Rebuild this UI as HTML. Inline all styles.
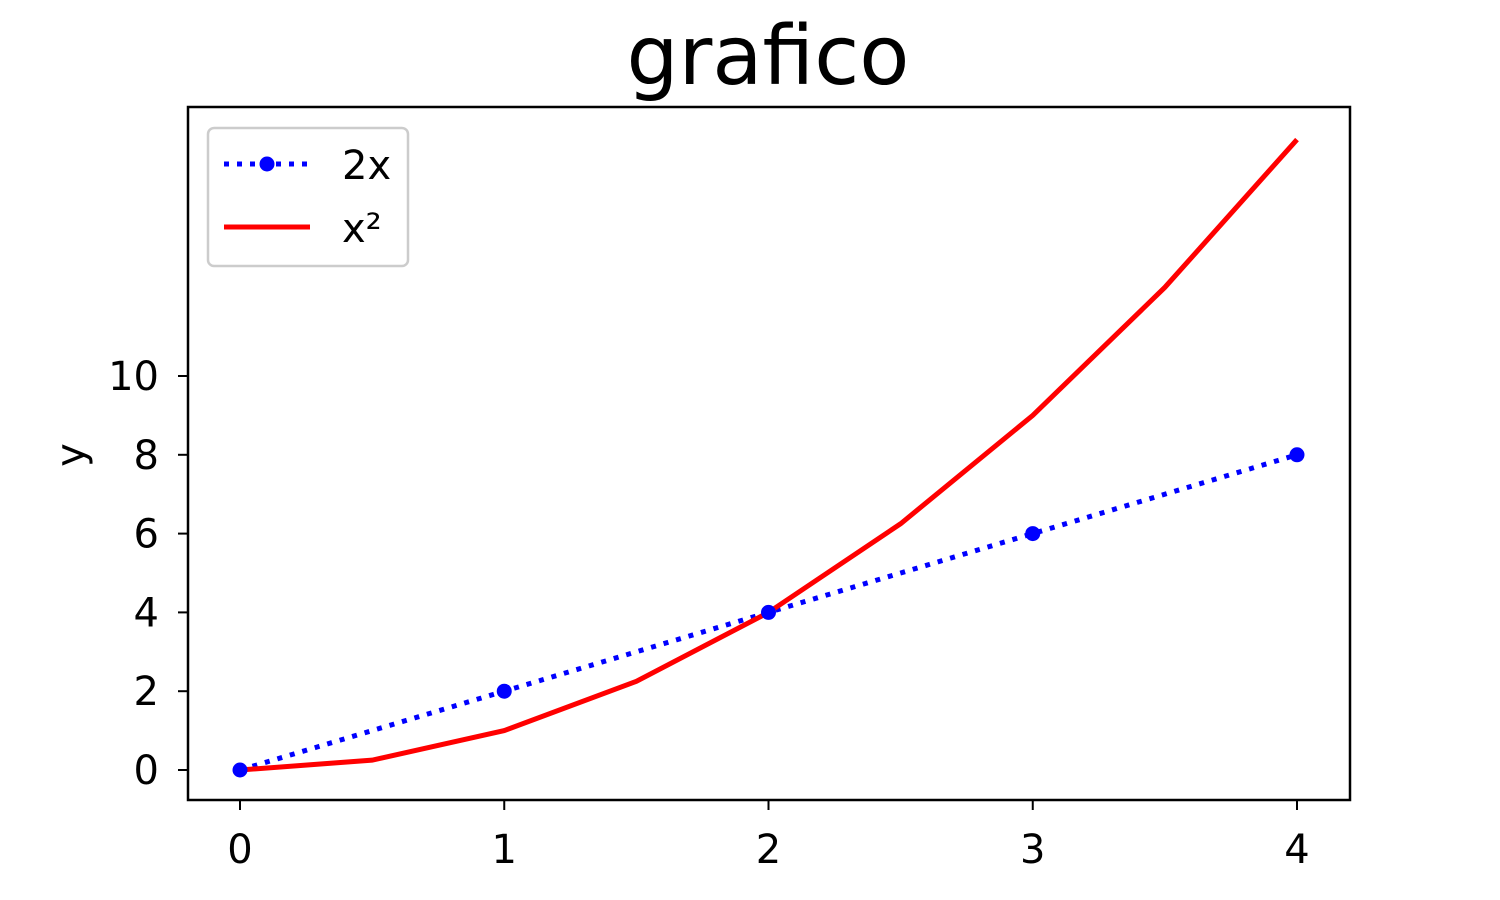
<!DOCTYPE html>
<html><head><meta charset="utf-8"><style>
body{margin:0;background:#fff}
svg{display:block;font-family:"DejaVu Sans","Liberation Sans",sans-serif}
</style></head><body>
<svg id="chart" width="1500" height="900" viewBox="0 0 1500 900">
<rect width="1500" height="900" fill="#fff"/>
<text x="768" y="84" font-size="82" text-anchor="middle">grafico</text>
<g id="ticks"></g>
<g id="marks"></g>
<rect x="188" y="107" width="1162" height="693" fill="none" stroke="#000" stroke-width="2.5"/>
<text transform="translate(84,455) rotate(-90)" font-size="40" text-anchor="middle">y</text>
<text x="768" y="922" font-size="40" text-anchor="middle">x</text>
<g>
<rect x="208" y="128" width="200" height="138" rx="6" fill="#fff" stroke="#ccc" stroke-width="2.5"/>
<line x1="224" y1="164" x2="310" y2="164" stroke="#0000ff" stroke-width="5" stroke-dasharray="5,8"/>
<circle cx="267" cy="164" r="7.5" fill="#0000ff"/>
<text x="342" y="179" font-size="40">2x</text>
<line x1="224" y1="227" x2="310" y2="227" stroke="#ff0000" stroke-width="5"/>
<text x="342" y="242" font-size="40">x²</text>
</g>
</svg>
<script>
const xTicks=[0,1,2,3,4];
const yTicks=[0,2,4,6,8,10];
const linX=[0,1,2,3,4];
const linY=[0,2,4,6,8];
const sqX=[0,0.5,1,1.5,2,2.5,3,3.5,4];
const sqY=[0,0.25,1,2.25,4,6.25,9,12.25,16];
const NS="http://www.w3.org/2000/svg";
const sx=v=>240+v*264.25;
const sy=v=>770-v*39.4;
const tk=document.getElementById('ticks'),mk=document.getElementById('marks');
function el(t,a,p){const e=document.createElementNS(NS,t);for(const k in a)e.setAttribute(k,a[k]);p.appendChild(e);return e;}
xTicks.forEach(v=>{
 const l=el('line',{x1:sx(v),x2:sx(v),y1:800,y2:810,stroke:'#000','stroke-width':2},tk);
 
 
 const t=el('text',{x:sx(v),y:863,'font-size':40,'text-anchor':'middle'},tk);t.textContent=v;
 
 
});
yTicks.forEach(v=>{
 const l=el('line',{x1:178,x2:188,y1:sy(v),y2:sy(v),stroke:'#000','stroke-width':2},tk);
 
 
 const t=el('text',{x:159,y:sy(v)+14,'font-size':40,'text-anchor':'end'},tk);t.textContent=v;
 
 
});
const p1=el('polyline',{points:linX.map((x,i)=>sx(x)+','+sy(linY[i])).join(' '),fill:'none',stroke:'#0000ff','stroke-width':5,'stroke-dasharray':'5,8'},mk);


const p2=el('polyline',{points:sqX.map((x,i)=>sx(x)+','+sy(sqY[i])).join(' '),fill:'none',stroke:'#ff0000','stroke-width':5},mk);


linX.forEach((x,i)=>{
 const c=el('circle',{cx:sx(x),cy:sy(linY[i]),r:7.5,fill:'#0000ff'},mk);
 
 
});
</script>
</body></html>
